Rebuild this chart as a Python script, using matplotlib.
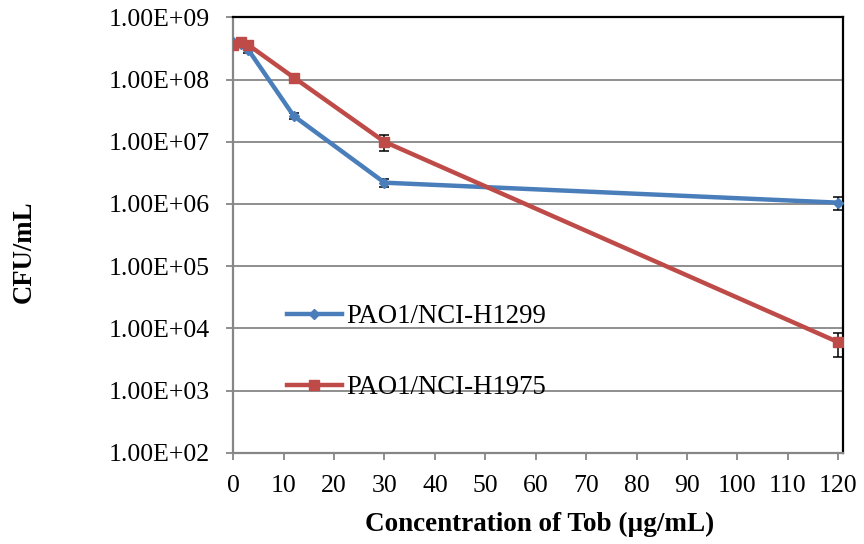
import math
import matplotlib
matplotlib.use("Agg")
import matplotlib.pyplot as plt
from matplotlib.lines import Line2D
from matplotlib.ticker import FixedLocator, FuncFormatter

# Tobramycin concentration (µg/mL) and CFU/mL counts
conc = [0, 1.5, 3, 12, 30, 120]
h1299 = [4.0e8, 3.8e8, 3.0e8, 2.6e7, 2.2e6, 1.05e6]
h1299_err = [0.3e8, 0.3e8, 0.3e8, 0.3e7, 0.3e6, 0.25e6]
h1975 = [3.6e8, 4.0e8, 3.6e8, 1.08e8, 1.0e7, 6.0e3]
h1975_err = [0.3e8, 0.3e8, 0.3e8, 0.1e8, 0.28e7, 2.5e3]

labels = ["PAO1/NCI-H1299", "PAO1/NCI-H1975"]
blue = "#4A7EBB"
red = "#BE4B48"
grid_gray = "#868686"

plt.rcParams["font.family"] = ["Liberation Serif", "DejaVu Serif"]

W, H = 864, 544
fig = plt.figure(figsize=(W / 100, H / 100), dpi=100)
ax = fig.add_axes([0.270, 0.1678, 0.7053, 0.8002])

styles = [
    dict(color=blue, marker="D", ms=5.5),
    dict(color=red, marker="s", ms=7.5),
]
for y, err, st, z in [(h1299, h1299_err, styles[0], 3), (h1975, h1975_err, styles[1], 4)]:
    ax.errorbar(conc, y, yerr=err, color=st["color"], lw=3.2, marker=st["marker"],
                ms=st["ms"], mfc=st["color"], mec=st["color"], ecolor="black",
                elinewidth=1.1, capsize=3.6, capthick=1.1, zorder=z)

ax.set_yscale("log")
ax.set_ylim(1e2, 1e9)
ax.set_xlim(0, 120.9)
ax.xaxis.set_major_locator(FixedLocator(list(range(0, 121, 10))))
ax.yaxis.set_major_locator(FixedLocator([10.0 ** k for k in range(2, 10)]))
ax.yaxis.set_minor_locator(FixedLocator([]))
ax.yaxis.set_major_formatter(FuncFormatter(lambda v, p: "1.00E+%02d" % round(math.log10(v))))

ax.grid(axis="y", color=grid_gray, lw=1.3)
ax.set_axisbelow(True)

for side in ("left", "bottom"):
    ax.spines[side].set_color(grid_gray)
    ax.spines[side].set_linewidth(1.6)
for side in ("right", "top"):
    ax.spines[side].set_color("black")
    ax.spines[side].set_linewidth(1.6)

ax.tick_params(axis="both", which="major", direction="out", length=5,
               width=1.3, color=grid_gray, labelsize=18.5)
ax.tick_params(axis="y", pad=12)
ax.tick_params(axis="x", pad=11)

fig.text(24 / W, 1 - 252 / H, "CFU/mL", rotation=90, fontsize=19.3,
         fontweight="bold", ha="center", va="center")
fig.text(540 / W, 1 - 524 / H, "Concentration of Tob (\u00b5g/mL)", fontsize=19.5,
         fontweight="bold", ha="center", va="center")

handles = [Line2D([], [], lw=3.2, mfc=st["color"], mec=st["color"], **st)
           for st in styles]
ax.legend(handles, labels, loc="upper left", bbox_to_anchor=(0.070, 0.366),
          frameon=False, fontsize=19.3, handlelength=2.05, handletextpad=0.19,
          labelspacing=1.72, borderaxespad=0)

fig.savefig("out.png", dpi=100)
